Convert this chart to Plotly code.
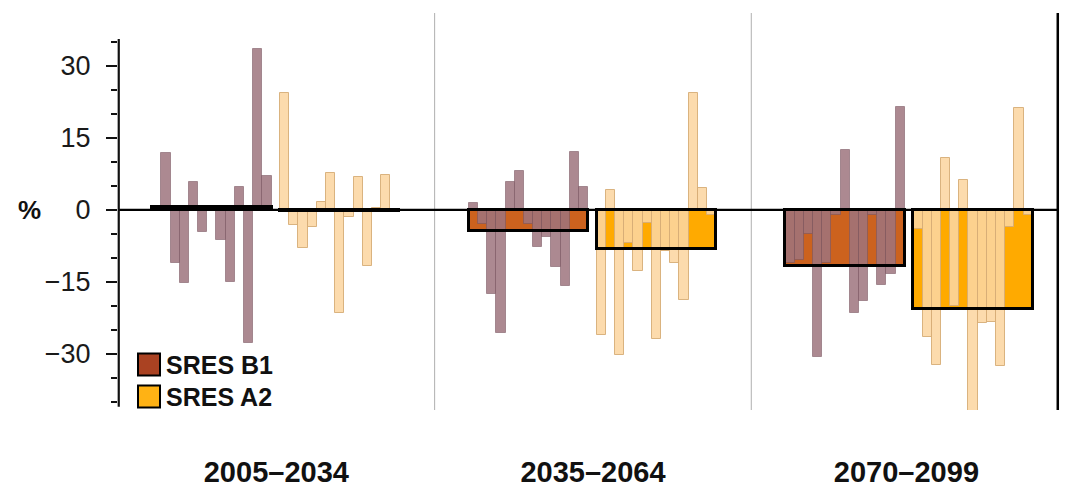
import plotly.graph_objects as go

# ---- data -----------------------------------------------------------------
periods = ["2005–2034", "2035–2064", "2070–2099"]

# multi-model ensemble mean change (%)
b1_mean = [0.6, -4.4, -11.6]
a2_mean = [-0.2, -8.2, -20.7]

# individual model changes (%), SRES B1
b1_2005 = [0.5, 11.8, -11.1, -15.3, 5.7, -4.7, 0.4, -6.2, -15.1, 4.7, -27.8, 33.5, 7.1]
b1_2035 = [1.5, -3.0, -17.6, -25.7, 5.7, 8.1, -3.0, -7.8, -5.6, -12.0, -15.8, 12.0, 4.7]
b1_2070 = [-11.0, -10.5, -5.0, -30.6, -11.0, -1.0, 12.4, -21.5, -18.9, -1.0, -15.6, -13.3, 21.5]

# individual model changes (%), SRES A2
a2_2005 = [24.3, -3.1, -8.0, -3.5, 1.7, 7.6, -21.5, -1.4, 6.9, -11.7, 0.3, 7.3, 0.2]
a2_2035 = [-26.0, 4.2, -30.2, -7.0, -12.8, -2.8, -27.0, -8.5, -11.1, -18.8, 24.3, 4.5, -1.0]
a2_2070 = [-4.0, -26.4, -32.3, 10.8, -20.0, 6.3, -43.0, -23.6, -23.3, -32.6, -3.5, 21.2, -1.0]

y_major = [-30, -15, 0, 15, 30]
y_minor = [-40, -35, -25, -20, -10, -5, 5, 10, 20, 25, 35]

# ---- geometry (one panel = 1 x-unit) --------------------------------------
W, H = 1066, 491
ML, MR, MT, MB = 118, 6, 13, 81
X_MAX = 2.975
Y_RANGE = [-41.7, 41.0]
BOX_W = 0.377                       # width of the ensemble-mean box
BOX_LEFT = {"B1": 0.108, "A2": 0.512}
N_MOD = 13
SLOT = BOX_W / N_MOD

FONT = "Liberation Sans, Arial, Helvetica, sans-serif"

B1_MODEL = "rgba(158,116,126,0.85)"
B1_MODEL_EDGE = "rgba(120,84,94,0.55)"
A2_MODEL = "rgba(252,214,162,0.88)"
A2_MODEL_EDGE = "rgba(214,172,118,0.9)"
B1_FILL = "rgb(204,98,30)"
A2_FILL = "rgb(255,170,0)"

def model_x(panel, group):
    left = panel + BOX_LEFT[group]
    return [left + (i + 0.5) * SLOT for i in range(N_MOD)]

def box_x(panel, group):
    return panel + BOX_LEFT[group] + BOX_W / 2

b1_models = [b1_2005, b1_2035, b1_2070]
a2_models = [a2_2005, a2_2035, a2_2070]

fig = go.Figure()

# ensemble-mean fills (underneath the model bars)
fig.add_trace(go.Bar(x=[box_x(p, "B1") for p in range(3)], y=b1_mean,
                     width=[BOX_W] * 3, marker=dict(color=B1_FILL, line=dict(width=0)),
                     showlegend=False, hoverinfo="skip"))
fig.add_trace(go.Bar(x=[box_x(p, "A2") for p in range(3)], y=a2_mean,
                     width=[BOX_W] * 3, marker=dict(color=A2_FILL, line=dict(width=0)),
                     showlegend=False, hoverinfo="skip"))

# individual models
bx, by, ax, ay = [], [], [], []
for p in range(3):
    bx += model_x(p, "B1"); by += b1_models[p]
    ax += model_x(p, "A2"); ay += a2_models[p]
fig.add_trace(go.Bar(x=bx, y=by, width=[SLOT] * len(bx),
                     marker=dict(color=B1_MODEL, line=dict(color=B1_MODEL_EDGE, width=1)),
                     showlegend=False))
fig.add_trace(go.Bar(x=ax, y=ay, width=[SLOT] * len(ax),
                     marker=dict(color=A2_MODEL, line=dict(color=A2_MODEL_EDGE, width=1)),
                     showlegend=False))

# ensemble-mean outlines on top
fig.add_trace(go.Bar(x=[box_x(p, g) for p in range(3) for g in ("B1", "A2")],
                     y=[v for pair in zip(b1_mean, a2_mean) for v in pair],
                     width=[BOX_W] * 6,
                     marker=dict(color="rgba(0,0,0,0)", line=dict(color="black", width=3)),
                     showlegend=False, hoverinfo="skip"))

plot_w = W - ML - MR
plot_h = H - MT - MB
def px_x(px):
    return (px - ML) / plot_w
def px_y(py):
    return (H - MB - py) / plot_h

shapes = []
# panel separators
for xv in (1, 2):
    shapes.append(dict(type="line", xref="x", yref="paper", x0=xv, x1=xv, y0=0, y1=1,
                       line=dict(color="rgb(175,175,175)", width=1), layer="below"))
# right frame line
x_right = 2.968
shapes.append(dict(type="line", xref="x", yref="paper", x0=x_right, x1=x_right, y0=0, y1=1,
                   line=dict(color="black", width=2.5), layer="above"))
# zero line
shapes.append(dict(type="line", xref="paper", yref="y", x0=0, x1=x_right / X_MAX, y0=0, y1=0,
                   line=dict(color="black", width=2.2), layer="above"))
# y axis spine
shapes.append(dict(type="line", xref="paper", yref="y", x0=0.0008, x1=0.0008, y0=-41, y1=35.6,
                   line=dict(color="#111", width=2.2), layer="above"))

# legend
legend_items = [("SRES B1", "rgb(170,66,34)", 364.5), ("SRES A2", "rgb(255,178,20)", 396.5)]
annotations = []
for label, col, cy in legend_items:
    shapes.append(dict(type="rect", xref="paper", yref="paper",
                       x0=px_x(138), x1=px_x(160), y0=px_y(cy + 11), y1=px_y(cy - 11),
                       fillcolor=col, line=dict(color="black", width=2), layer="above"))
    annotations.append(dict(text=f"<b>{label}</b>", xref="paper", yref="paper",
                            x=px_x(164), y=px_y(cy), xanchor="left", yanchor="middle",
                            showarrow=False, font=dict(family=FONT, size=25, color="#111")))

annotations.append(dict(text="<b>%</b>", xref="paper", yref="y", x=px_x(29), y=0,
                        xanchor="center", yanchor="middle", showarrow=False,
                        font=dict(family=FONT, size=26, color="#111")))

fig.update_layout(
    width=W, height=H,
    margin=dict(l=ML, r=MR, t=MT, b=MB, pad=0, autoexpand=False),
    paper_bgcolor="white", plot_bgcolor="white",
    barmode="overlay", bargap=0,
    showlegend=False,
    shapes=shapes, annotations=annotations,
    font=dict(family=FONT, color="#111"),
    xaxis=dict(range=[0, X_MAX], showgrid=False, zeroline=False, showline=False,
               automargin=False,
               tickmode="array", tickvals=[0.5, 1.5, 2.49],
               ticktext=[f"<b>{p}</b>" for p in periods],
               ticks="outside", ticklen=36, tickcolor="rgba(0,0,0,0)",
               tickfont=dict(family=FONT, size=29, color="#111"), fixedrange=True),
    yaxis=dict(range=Y_RANGE, showgrid=False, zeroline=False, showline=False,
               automargin=False,
               tickmode="array", tickvals=y_major,
               ticktext=[("\u2212" + str(-v)) if v < 0 else str(v) for v in y_major],
               ticks="outside", ticklen=11, tickwidth=2, tickcolor="#111",
               ticklabelstandoff=10,
               tickfont=dict(family=FONT, size=27, color="#1a1a1a"),
               minor=dict(tickmode="array", tickvals=y_minor, ticks="outside",
                          ticklen=6, tickwidth=1.6, tickcolor="#111", showgrid=False),
               fixedrange=True),
)

fig.write_html("out.html")
